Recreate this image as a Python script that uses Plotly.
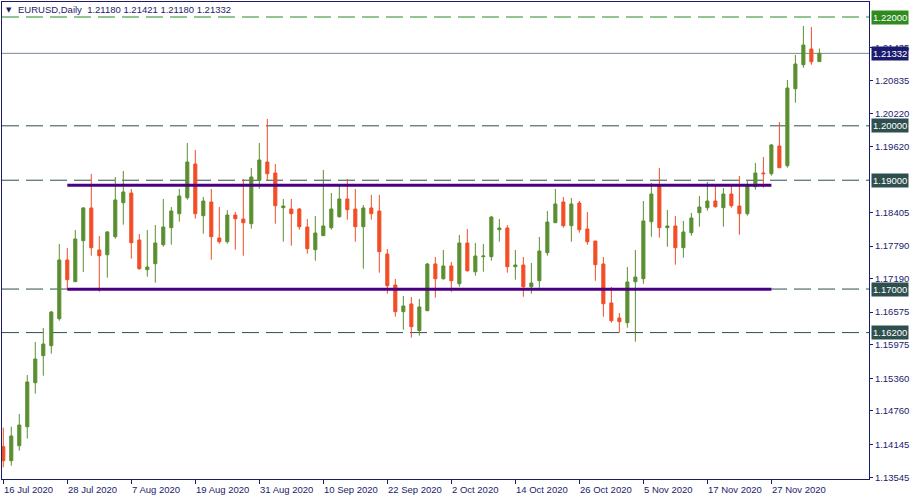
import pandas as pd
import plotly.graph_objects as go

# ---- data (EURUSD daily) ----
dates = pd.bdate_range("2020-07-16", periods=103).strftime("%Y-%m-%d").tolist()

opens = [1.14103, 1.13845, 1.14121, 1.14470, 1.15279, 1.15775, 1.15959, 1.16455, 1.17534, 1.17135,
         1.17889, 1.18490, 1.17718, 1.17631, 1.17962, 1.18587, 1.18765, 1.17901, 1.17356, 1.17466,
         1.17815, 1.18128, 1.18385, 1.18679, 1.19298, 1.18348, 1.18600, 1.17938, 1.17870, 1.18361,
         1.18287, 1.18201, 1.18999, 1.19335, 1.19133, 1.18495, 1.18471, 1.18471, 1.18140, 1.17723,
         1.17981, 1.18128, 1.18330, 1.18655, 1.18471, 1.18146, 1.18490, 1.18434, 1.17644, 1.17074,
         1.16584, 1.16725, 1.16235, 1.16602, 1.17460, 1.17190, 1.17424, 1.17098, 1.17846, 1.17319,
         1.17595, 1.17595, 1.18091, 1.18122, 1.17411, 1.17442, 1.17043, 1.17153, 1.17668, 1.18219,
         1.18600, 1.18164, 1.18581, 1.18104, 1.17883, 1.17460, 1.16744, 1.16468, 1.16382, 1.17135,
         1.17190, 1.18238, 1.18912, 1.18128, 1.18159, 1.17760, 1.18036, 1.18403, 1.18495, 1.18618,
         1.18495, 1.18747, 1.18526, 1.18385, 1.18881, 1.19133, 1.19120, 1.19629, 1.19267, 1.20682,
         1.21123, 1.21412, 1.21180]
highs = [1.14452, 1.14470, 1.14703, 1.15420, 1.16027, 1.16284, 1.16597, 1.17828, 1.17754, 1.18085,
         1.18508, 1.19115, 1.17975, 1.18067, 1.19059, 1.19170, 1.18839, 1.18012, 1.18085, 1.18177,
         1.18655, 1.18508, 1.18839, 1.19684, 1.19556, 1.18692, 1.18839, 1.18508, 1.18453, 1.18416,
         1.19023, 1.19225, 1.19684, 1.20125, 1.19298, 1.18655, 1.18655, 1.18490, 1.18287, 1.18343,
         1.19188, 1.18765, 1.18894, 1.19023, 1.18839, 1.18545, 1.18729, 1.18729, 1.17736, 1.17185,
         1.16872, 1.16854, 1.16817, 1.17479, 1.17589, 1.17718, 1.17497, 1.17993, 1.18104, 1.17846,
         1.17828, 1.18343, 1.18287, 1.18177, 1.17718, 1.17589, 1.17479, 1.17957, 1.18434, 1.18839,
         1.18692, 1.18673, 1.18618, 1.18416, 1.17883, 1.17589, 1.17038, 1.16560, 1.17405, 1.17718,
         1.18618, 1.18949, 1.19225, 1.18453, 1.18343, 1.18251, 1.18398, 1.18710, 1.18967, 1.18931,
         1.18857, 1.18931, 1.19078, 1.19004, 1.19317, 1.19427, 1.19666, 1.20070, 1.20842, 1.21302,
         1.21835, 1.21816, 1.21421]
lows = [1.13724, 1.13753, 1.14029, 1.14250, 1.15077, 1.15407, 1.15812, 1.16418, 1.16983, 1.17130,
        1.17313, 1.17613, 1.16951, 1.17209, 1.17925, 1.18183, 1.17558, 1.17356, 1.17227, 1.17117,
        1.17778, 1.17815, 1.18238, 1.18642, 1.18293, 1.18017, 1.17539, 1.17833, 1.17833, 1.17723,
        1.17613, 1.18109, 1.18844, 1.18999, 1.18201, 1.17870, 1.17797, 1.18091, 1.17650, 1.17521,
        1.17975, 1.18091, 1.18311, 1.18275, 1.17870, 1.17374, 1.18275, 1.17301, 1.16915, 1.16492,
        1.16253, 1.16106, 1.16143, 1.16595, 1.16841, 1.17172, 1.16951, 1.17043, 1.17319, 1.17245,
        1.17319, 1.17521, 1.17870, 1.17301, 1.17172, 1.16859, 1.16915, 1.17025, 1.17613, 1.18215,
        1.18128, 1.17870, 1.18036, 1.17815, 1.17153, 1.16492, 1.16382, 1.16198, 1.16290, 1.16032,
        1.17098, 1.17962, 1.17944, 1.17778, 1.17448, 1.17576, 1.17981, 1.18146, 1.18440, 1.18495,
        1.18146, 1.18495, 1.17999, 1.18348, 1.18826, 1.18863, 1.19083, 1.19225, 1.19230, 1.20425,
        1.21068, 1.21123, 1.21180]
closes = [1.13845, 1.14299, 1.14501, 1.15292, 1.15714, 1.15990, 1.16578, 1.17534, 1.17172, 1.17920,
          1.18490, 1.17760, 1.17613, 1.18049, 1.18637, 1.18784, 1.17852, 1.17374, 1.17405, 1.17846,
          1.18140, 1.18434, 1.18710, 1.19335, 1.18385, 1.18618, 1.17962, 1.17870, 1.18361, 1.18293,
          1.18219, 1.19059, 1.19372, 1.19120, 1.18532, 1.18526, 1.18385, 1.18146, 1.17742, 1.18030,
          1.18159, 1.18471, 1.18655, 1.18458, 1.18146, 1.18490, 1.18385, 1.17686, 1.17062, 1.16584,
          1.16688, 1.16308, 1.16670, 1.17460, 1.17190, 1.17424, 1.17153, 1.17846, 1.17337, 1.17607,
          1.17607, 1.18324, 1.18122, 1.17411, 1.17442, 1.17043, 1.17111, 1.17699, 1.18232, 1.18563,
          1.18164, 1.18563, 1.18091, 1.17870, 1.17448, 1.16731, 1.16418, 1.16400, 1.17130, 1.17221,
          1.18251, 1.18747, 1.18128, 1.18159, 1.17760, 1.18049, 1.18306, 1.18508, 1.18618, 1.18514,
          1.18747, 1.18532, 1.18385, 1.18894, 1.19133, 1.19120, 1.19648, 1.19230, 1.20695, 1.21136,
          1.21485, 1.21178, 1.21332]

tick_dates = ["2020-07-16", "2020-07-28", "2020-08-07", "2020-08-19", "2020-08-31", "2020-09-10",
              "2020-09-22", "2020-10-02", "2020-10-14", "2020-10-26", "2020-11-05", "2020-11-17",
              "2020-11-27"]
tick_labels = ["16 Jul 2020", "28 Jul 2020", "7 Aug 2020", "19 Aug 2020", "31 Aug 2020", "10 Sep 2020",
               "22 Sep 2020", "2 Oct 2020", "14 Oct 2020", "26 Oct 2020", "5 Nov 2020", "17 Nov 2020",
               "27 Nov 2020"]
price_ticks = [1.21435, 1.20835, 1.20220, 1.19620, 1.18405, 1.17790, 1.17190, 1.16575,
               1.15975, 1.15360, 1.14760, 1.14145, 1.13545]
levels = [1.22, 1.20, 1.19, 1.17, 1.162]
level_labels = ["1.22000", "1.20000", "1.19000", "1.17000", "1.16200"]
channel_levels = [1.18907, 1.16995]
channel_dates = ["2020-07-28", "2020-11-27"]
last_price = 1.21332
header = "EURUSD,Daily  1.21180 1.21421 1.21180 1.21332"

# ---- style ----
NAVY = "#1B1B6B"
GREEN = "#5A8F30"
RED = "#F24D25"
SLATE = "#2F4F4F"
FONT = "Liberation Sans"

fig = go.Figure()
fig.add_trace(go.Candlestick(
    x=dates, open=opens, high=highs, low=lows, close=closes,
    increasing=dict(line=dict(color=GREEN, width=1), fillcolor=GREEN),
    decreasing=dict(line=dict(color=RED, width=1), fillcolor=RED),
    whiskerwidth=0, showlegend=False, hoverinfo="skip",
))

shapes = []
for i, lv in enumerate(levels):
    col = "#228B22" if i == 0 else SLATE
    shapes.append(dict(type="line", xref="paper", x0=0, x1=1, yref="y", y0=lv, y1=lv,
                       line=dict(color=col, width=1, dash="17px,7px"), layer="below"))
shapes.append(dict(type="line", xref="paper", x0=0, x1=1, yref="y", y0=last_price, y1=last_price,
                   line=dict(color="#778899", width=1), layer="below"))
for lv in channel_levels:
    shapes.append(dict(type="line", xref="x", x0=channel_dates[0], x1=channel_dates[1],
                       yref="y", y0=lv, y1=lv, line=dict(color="#4B0082", width=3), layer="above"))

annotations = []
for d, t in zip(tick_dates, tick_labels):
    annotations.append(dict(x=d, xref="x", y=0, yref="paper", text=t, showarrow=False,
                            xanchor="left", yanchor="top", xshift=-1, yshift=-3,
                            font=dict(family=FONT, size=9.5, color=NAVY)))
# lowest price label (Plotly drops it at the range edge, so it is placed as text)
annotations.append(dict(x=1, xref="paper", y=price_ticks[-1], yref="y",
                        text=f"{price_ticks[-1]:.5f}", showarrow=False,
                        xanchor="left", yanchor="middle", xshift=4,
                        font=dict(family=FONT, size=9.5, color=NAVY)))
for i, (lv, lab) in enumerate(zip(levels, level_labels)):
    bg = "#2E8B1F" if i == 0 else SLATE
    annotations.append(dict(x=1, xref="paper", y=lv, yref="y", text=lab, showarrow=False,
                            xanchor="left", yanchor="middle", xshift=2,
                            bgcolor=bg, borderpad=1,
                            font=dict(family=FONT, size=9.5, color="white")))
annotations.append(dict(x=1, xref="paper", y=last_price, yref="y", text=f"{last_price:.5f}",
                        showarrow=False, xanchor="left", yanchor="middle", xshift=2,
                        bgcolor="#1A1A6E", borderpad=1,
                        font=dict(family=FONT, size=9.5, color="white")))
annotations.append(dict(x=0, xref="paper", y=1, yref="paper", text="\u25bc", showarrow=False,
                        xanchor="left", yanchor="top", xshift=2, yshift=-2,
                        font=dict(family="DejaVu Sans", size=7, color=NAVY)))
annotations.append(dict(x=0, xref="paper", y=1, yref="paper", text=header, showarrow=False,
                        xanchor="left", yanchor="top", xshift=14, yshift=0,
                        font=dict(family=FONT, size=9.5, color=NAVY)))

ytext = [f"{v:.5f}" for v in price_ticks[:-1]] + [""]

fig.update_layout(
    width=915, height=500,
    margin=dict(l=2, r=46, t=2, b=21),
    paper_bgcolor="white", plot_bgcolor="white",
    boxgap=0.45,
    shapes=shapes, annotations=annotations,
    font=dict(family=FONT, size=9.5, color=NAVY),
    xaxis=dict(type="category", range=[-0.16, 108.2], rangeslider=dict(visible=False),
               showgrid=False, zeroline=False, showline=True, mirror=True, linecolor=NAVY,
               linewidth=1, ticks="outside", ticklen=4, tickcolor=NAVY,
               tickvals=tick_dates, showticklabels=False),
    yaxis=dict(side="right", range=[1.135089, 1.222757], showgrid=False, zeroline=False,
               showline=True, mirror=True, linecolor=NAVY, linewidth=1,
               ticks="outside", ticklen=3, tickcolor=NAVY, tickvals=price_ticks,
               ticktext=ytext,
               tickfont=dict(family=FONT, size=9.5, color=NAVY)),
)

fig.write_html("out.html", config={"displayModeBar": False},
               post_script="document.body.style.margin='0';document.body.style.padding='0';")
